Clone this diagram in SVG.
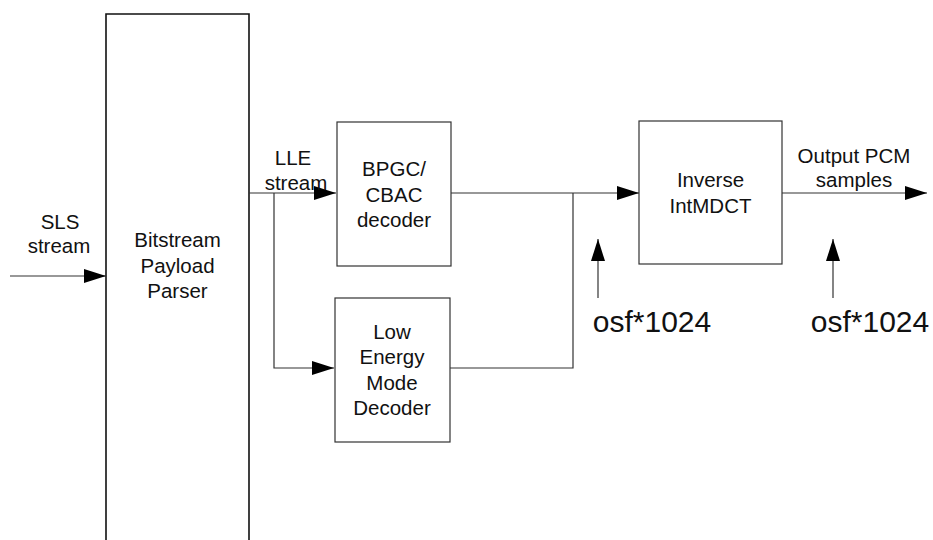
<svg xmlns="http://www.w3.org/2000/svg" width="933" height="540" viewBox="0 0 933 540">
<style>
  .box { fill: #fff; stroke: #333; stroke-width: 1.2; }
  .parser { fill: #fff; stroke: #111; stroke-width: 1.6; }
  .ln { fill: none; stroke: #333; stroke-width: 1.2; }
  .t { font-family: "Liberation Sans", Arial, sans-serif; font-size: 20.5px; fill: #111; text-anchor: middle; }
  .big { font-family: "Liberation Sans", Arial, sans-serif; font-size: 30px; fill: #111; text-anchor: middle; }
</style>
<defs>
  <marker id="ah" viewBox="0 0 22 14" refX="22" refY="7" markerWidth="22" markerHeight="14" markerUnits="userSpaceOnUse" orient="auto">
    <path d="M0,0 L22,7 L0,14 Z" fill="#000"/>
  </marker>
</defs>
<rect width="933" height="540" fill="#fff"/>

<g id="parser">
  <path class="parser" d="M106,560 L106,14 L249,14 L249,560"/>
  <text class="t" x="177.5" y="247">Bitstream</text>
  <text class="t" x="177.5" y="273">Payload</text>
  <text class="t" x="177.5" y="298">Parser</text>
</g>

<g id="bpgc">
  <rect class="box" x="337" y="122" width="114" height="144"/>
  <text class="t" x="394" y="176">BPGC/</text>
  <text class="t" x="394" y="202">CBAC</text>
  <text class="t" x="394" y="227">decoder</text>
</g>

<g id="lowenergy">
  <rect class="box" x="335" y="298" width="115" height="144"/>
  <text class="t" x="392" y="339">Low</text>
  <text class="t" x="392" y="364">Energy</text>
  <text class="t" x="392" y="390">Mode</text>
  <text class="t" x="392" y="415">Decoder</text>
</g>

<g id="imdct">
  <rect class="box" x="639" y="121" width="143" height="143"/>
  <text class="t" x="710.5" y="187">Inverse</text>
  <text class="t" x="710.5" y="213">IntMDCT</text>
</g>

<g id="connectors">
  <line class="ln" x1="10" y1="276" x2="106" y2="276" marker-end="url(#ah)"/>
  <line class="ln" x1="249" y1="193" x2="336" y2="193" marker-end="url(#ah)"/>
  <polyline class="ln" points="274,193 274,368 334,368" marker-end="url(#ah)"/>
  <line class="ln" x1="451" y1="193" x2="639" y2="193" marker-end="url(#ah)"/>
  <polyline class="ln" points="450,368 573,368 573,193"/>
  <line class="ln" x1="782" y1="193" x2="927" y2="193" marker-end="url(#ah)"/>
  <line class="ln" x1="598" y1="298" x2="598" y2="239" marker-end="url(#ah)"/>
  <line class="ln" x1="833" y1="298" x2="833" y2="239" marker-end="url(#ah)"/>
</g>

<g id="labels">
  <text class="t" x="60" y="229">SLS</text>
  <text class="t" x="59" y="253">stream</text>
  <text class="t" x="293" y="165">LLE</text>
  <text class="t" x="296" y="190">stream</text>
  <text class="t" x="854" y="163">Output PCM</text>
  <text class="t" x="854" y="187">samples</text>
  <text class="big" x="652" y="332">osf*1024</text>
  <text class="big" x="870" y="332">osf*1024</text>
</g>
</svg>
